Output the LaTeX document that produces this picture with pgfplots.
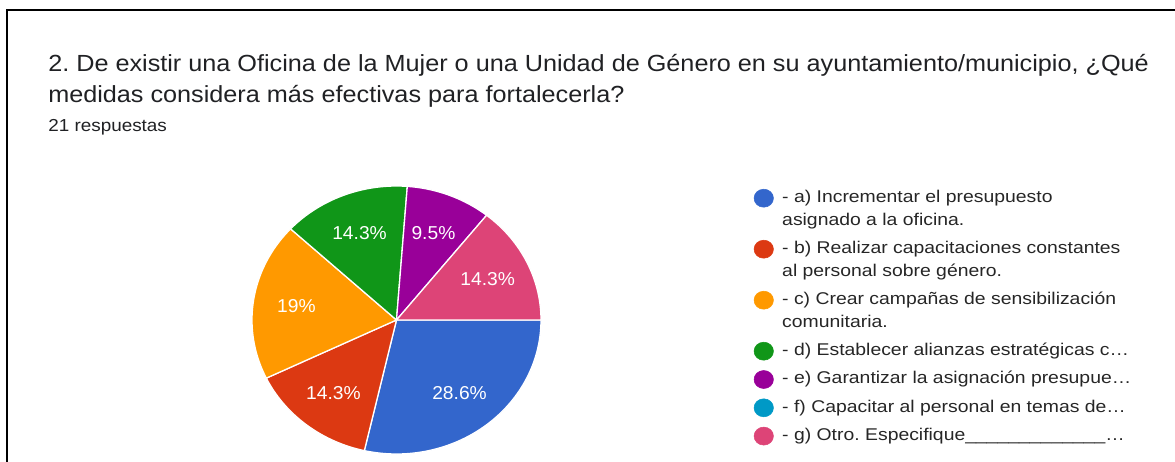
\documentclass[border=0pt]{standalone}
\usepackage{pgfplots}
\pgfplotsset{compat=1.18}
\usepackage{pgfplotstable}
\usepackage{fontspec}
\setmainfont{Liberation Sans}
\newfontfamily\titlefam[FakeStretch=1.081]{Liberation Sans}
\newfontfamily\subfam[FakeStretch=1.09]{Liberation Sans}
\newfontfamily\legfam[FakeStretch=1.14]{Liberation Sans}
\newfontfamily\labfam[FakeStretch=1.03]{Liberation Sans}
\newdimen\px \px=0.75pt
\definecolor{c0}{HTML}{3366CC}
\definecolor{c1}{HTML}{DC3912}
\definecolor{c2}{HTML}{FF9900}
\definecolor{c3}{HTML}{109618}
\definecolor{c4}{HTML}{990099}
\definecolor{c5}{HTML}{0099C6}
\definecolor{c6}{HTML}{DD4477}
\definecolor{titlegray}{HTML}{202124}
\definecolor{leggray}{HTML}{262626}

% number of answers per option (21 answers)
\pgfplotstableread{
opt count
a 6
b 3
c 4
d 3
e 2
f 0
g 3
}\piedata

\newcommand\legcircle[1]{\addlegendimage{legend image code/.code={\fill[#1] (9.7\px,4.3\px) ellipse[x radius=9.7\px, y radius=9\px];}}}

\begin{document}
\frenchspacing
\begin{tikzpicture}[x=0.75pt,y=-0.75pt]
\useasboundingbox (0,0) rectangle (1175,461);
\draw[line width=2.2\px, black] (1180,10) -- (7,10) -- (7,470);
\node[anchor=base west, inner sep=0pt, text=titlegray, font={\titlefam\fontsize{17.5pt}{21pt}\selectfont}] at (48,71) {2. De existir una Oficina de la Mujer o una Unidad de Género en su ayuntamiento/municipio, ¿Qué};
\node[anchor=base west, inner sep=0pt, text=titlegray, font={\titlefam\fontsize{17.5pt}{21pt}\selectfont}] at (48,102) {medidas considera más efectivas para fortalecerla?};
\node[anchor=base west, inner sep=0pt, text=titlegray, font={\subfam\fontsize{13pt}{15pt}\selectfont}] at (48,131.7) {21 respuestas};
\coordinate (piec) at (396.5,320);

\begin{axis}[
  at={(piec)}, anchor=origin,
  width=289\px, height=268\px, scale only axis,
  xmin=-1, xmax=1, ymin=-1, ymax=1,
  hide axis, clip=false,
  legend style={at={(1.7363,1.02537)}, anchor=north west, draw=none, fill=none,
    inner sep=0pt, outer sep=0pt, row sep=0pt, column sep=8.5\px,
    font={\legfam\fontsize{12.75pt}{15pt}\selectfont}, text=leggray,
    cells={anchor=base west},
    nodes={inner sep=0pt, text depth=5\px, text height=23.3\px}},
]
\pgfplotsextra{%
  \pgfplotstablegetrowsof{\piedata}%
  \pgfmathtruncatemacro\lastrow{\pgfplotsretval-1}%
  \gdef\pietotal{0}%
  \foreach \r in {0,...,\lastrow}{%
    \pgfplotstablegetelem{\r}{count}\of\piedata
    \pgfmathsetmacro\tmp{\pietotal+\pgfplotsretval}%
    \xdef\pietotal{\tmp}%
  }%
  \gdef\cumangle{0}%
  \foreach \r in {0,...,\lastrow}{%
    \pgfplotstablegetelem{\r}{count}\of\piedata
    \pgfmathsetmacro\sweep{360*\pgfplotsretval/\pietotal}%
    \pgfmathsetmacro\pct{100*\pgfplotsretval/\pietotal}%
    \pgfmathsetmacro\aS{-\cumangle}%
    \pgfmathsetmacro\aE{-\cumangle-\sweep}%
    \pgfmathsetmacro\aM{-\cumangle-\sweep/2}%
    \ifdim\sweep pt>0pt
      \fill[c\r, draw=white, line width=1.3\px, line join=round] (axis cs:0,0) -- plot[domain=\aS:\aE, samples=90, variable=\t] (axis cs:{cos(\t)},{sin(\t)}) -- cycle;
      \node[text=white, inner sep=0pt, font={\labfam\fontsize{14pt}{16pt}\selectfont}] at (axis cs:{0.7*cos(\aM)},{0.7*sin(\aM)}) {\pgfmathprintnumber[fixed,precision=1,assume math mode=true]{\pct}\%};
    \fi
    \pgfmathsetmacro\tmp{\cumangle+\sweep}%
    \xdef\cumangle{\tmp}%
  }%
}
\legcircle{c0}\addlegendentry{- a) Incrementar el presupuesto}
\addlegendimage{empty legend}\addlegendentry[text height=17.7\px]{asignado a la oficina.}
\legcircle{c1}\addlegendentry{- b) Realizar capacitaciones constantes}
\addlegendimage{empty legend}\addlegendentry[text height=17.7\px]{al personal sobre género.}
\legcircle{c2}\addlegendentry{- c) Crear campañas de sensibilización}
\addlegendimage{empty legend}\addlegendentry[text height=17.7\px]{comunitaria.}
\legcircle{c3}\addlegendentry{- d) Establecer alianzas estratégicas c…}
\legcircle{c4}\addlegendentry{- e) Garantizar la asignación presupue…}
\legcircle{c5}\addlegendentry{- f) Capacitar al personal en temas de…}
\legcircle{c6}\addlegendentry{- g) Otro. Especifique\_\_\_\_\_\_\_\_\_\_\_\_\_…}
\end{axis}
\end{tikzpicture}
\end{document}
